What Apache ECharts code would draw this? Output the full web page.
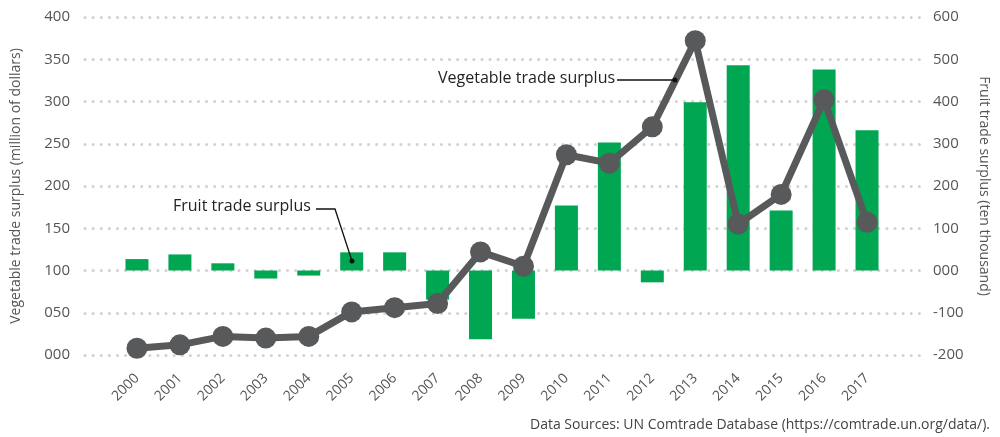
<!DOCTYPE html>
<html>
<head>
<meta charset="utf-8">
<script src="https://cdn.jsdelivr.net/npm/echarts@6/dist/echarts.min.js"></script>
<style>
  html, body { margin: 0; padding: 0; background: #fff; }
  #chart { width: 1000px; height: 437px; }
</style>
</head>
<body>
<div id="chart"></div>
<script>
// data
const years = ["2000", "2001", "2002", "2003", "2004", "2005", "2006", "2007", "2008",
  "2009", "2010", "2011", "2012", "2013", "2014", "2015", "2016", "2017"];
// vegetable trade surplus, million of dollars (left axis)
const vegetable = [8, 12, 22, 20, 22, 51, 56, 61, 122, 105, 237, 227, 270, 372, 155, 190, 302, 157];
// fruit trade surplus, ten thousand (right axis)
const fruit = [27, 38, 17, -19, -12, 43, 43, -69, -163, -114, 154, 303, -28, 398, 486, 142, 476, 332];
const leftTicks = { min: 0, max: 400, step: 50 };
const rightTicks = { min: -200, max: 600, step: 100 };

const GREEN = "#00a651";
const GREY = "#58595b";
const FONT = "Open Sans";

const pad3 = (v) => (v < 0 ? "-" : "") + String(Math.abs(v)).padStart(3, "0");

const chart = echarts.init(document.getElementById("chart"));

chart.setOption({
  animation: false,
  textStyle: { fontFamily: FONT },
  // grid 0 carries the wide dotted grid and the axis labels,
  // grid 1 holds the actual series (narrower, like the reference)
  grid: [
    { left: 85, right: 80, top: 17, bottom: 82 },
    { left: 115.5, right: 111.5, top: 17, bottom: 82 },
  ],
  xAxis: [
    { gridIndex: 0, type: "value", min: 0, max: 1, show: false },
    {
      gridIndex: 1,
      type: "category",
      data: years,
      axisLine: { show: false },
      axisTick: { show: false },
      axisLabel: {
        rotate: 45,
        margin: 21,
        fontSize: 14,
        color: "#555",
        fontFamily: FONT,
      },
    },
  ],
  yAxis: [
    {
      gridIndex: 0,
      type: "value",
      position: "left",
      min: leftTicks.min,
      max: leftTicks.max,
      interval: leftTicks.step,
      name: "Vegetable trade surplus (million of dollars)",
      nameLocation: "middle",
      nameGap: 62,
      nameTextStyle: { fontSize: 14, color: "#555", fontFamily: FONT },
      axisLine: { show: false },
      axisTick: { show: false },
      axisLabel: { fontSize: 15, color: "#555", margin: 15, formatter: pad3 },
      splitLine: {
        lineStyle: { color: "#d2d2d2", width: 3, type: [0.1, 8], cap: "round" },
      },
    },
    {
      gridIndex: 0,
      type: "value",
      position: "right",
      min: rightTicks.min,
      max: rightTicks.max,
      interval: rightTicks.step,
      name: "Fruit trade surplus (ten thousand)",
      nameLocation: "middle",
      nameGap: 57,
      nameRotate: -90,
      nameTextStyle: { fontSize: 14, color: "#555", fontFamily: FONT },
      axisLine: { show: false },
      axisTick: { show: false },
      axisLabel: { fontSize: 15, color: "#555", margin: 13, formatter: pad3 },
      splitLine: { show: false },
    },
    {
      gridIndex: 1,
      type: "value",
      min: leftTicks.min,
      max: leftTicks.max,
      show: false,
      splitLine: { show: false },
    },
    {
      gridIndex: 1,
      type: "value",
      min: rightTicks.min,
      max: rightTicks.max,
      show: false,
      splitLine: { show: false },
    },
  ],
  series: [
    {
      name: "Fruit trade surplus",
      type: "bar",
      xAxisIndex: 1,
      yAxisIndex: 3,
      data: fruit,
      barWidth: 23,
      itemStyle: { color: GREEN },
      z: 2,
    },
    {
      name: "Vegetable trade surplus",
      type: "line",
      xAxisIndex: 1,
      yAxisIndex: 2,
      data: vegetable,
      symbol: "circle",
      symbolSize: 21,
      lineStyle: { color: GREY, width: 7 },
      itemStyle: { color: GREY },
      z: 3,
    },
  ],
  graphic: [
    // annotation: vegetable
    {
      type: "text",
      left: 438,
      top: 70,
      style: { text: "Vegetable trade surplus", font: `16px "${FONT}"`, fill: "#222" },
      z: 10,
    },
    {
      type: "line",
      shape: { x1: 617, y1: 80, x2: 675, y2: 80 },
      style: { stroke: "#111", lineWidth: 1.3 },
      z: 10,
    },
    { type: "circle", shape: { cx: 675, cy: 80, r: 2.5 }, style: { fill: "#111" }, z: 10 },
    // annotation: fruit
    {
      type: "text",
      left: 173,
      top: 198,
      style: { text: "Fruit trade surplus", font: `16px "${FONT}"`, fill: "#222" },
      z: 10,
    },
    {
      type: "polyline",
      shape: { points: [[316, 209], [335, 209], [352, 261]] },
      style: { stroke: "#111", lineWidth: 1.3, fill: null },
      z: 10,
    },
    { type: "circle", shape: { cx: 352, cy: 261, r: 2.5 }, style: { fill: "#111" }, z: 10 },
    // source
    {
      type: "text",
      right: 10,
      top: 418,
      style: {
        text: "Data Sources: UN Comtrade Database (https://comtrade.un.org/data/).",
        font: `14px "${FONT}"`,
        fill: "#444",
      },
    },
  ],
});
</script>
</body>
</html>
